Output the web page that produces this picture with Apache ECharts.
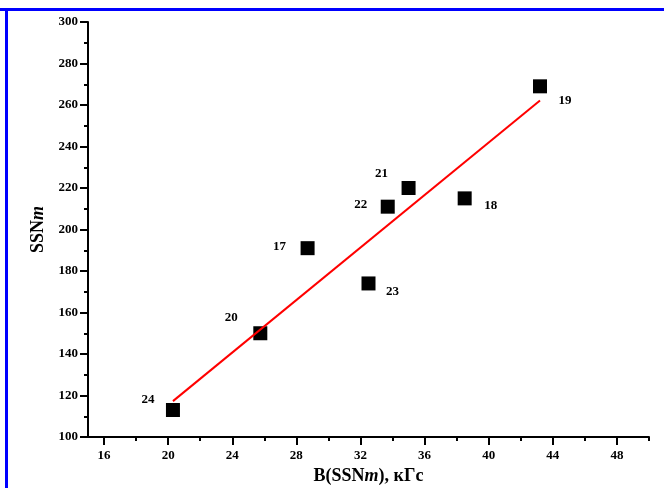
<!DOCTYPE html>
<html>
<head>
<meta charset="utf-8">
<script src="https://cdn.jsdelivr.net/npm/echarts@6/dist/echarts.min.js"></script>
<style>
    html, body { margin: 0; padding: 0; background: #fff; }
    #chart { width: 664px; height: 488px; }
</style>
</head>
<body>
<div id="chart"></div>
<script>
// номера циклов, B(SSNm) в кГс и SSNm
var cycles = ['17', '18', '19', '20', '21', '22', '23', '24'];
var bField = [28.7, 38.5, 43.2, 25.75, 35.0, 33.7, 32.5, 20.3];
var ssnMax = [191, 215, 269, 150, 220, 211, 174, 113];

// концы линии регрессии
var fitB = [20.3, 43.2];
var fitSSN = [117.3, 262.2];

// подписи оси X
var xTicks = [16, 20, 24, 28, 32, 36, 40, 44, 48];
var xMinorTicks = [18, 22, 26, 30, 34, 38, 42, 46, 50];

// смещения подписей циклов относительно точек (px)
var labelOffsets = [[-28, -2], [26, 7], [25, 14], [-29, -16], [-27, -14], [-27, -2], [24, 8], [-25, -10]];

var font = 'Liberation Serif';

var points = [];
for (var i = 0; i < cycles.length; i++) {
    points.push({
        value: [bField[i], ssnMax[i]],
        name: cycles[i],
        label: { offset: labelOffsets[i] }
    });
}
var fitLine = [];
for (var j = 0; j < fitB.length; j++) {
    fitLine.push([fitB[j], fitSSN[j]]);
}

var chart = echarts.init(document.getElementById('chart'));
chart.setOption({
    animation: false,
    backgroundColor: '#fff',
    grid: { left: 88, right: 15, top: 22, bottom: 51, outerBoundsMode: 'none', containLabel: false },
    graphic: [
        { type: 'rect', shape: { x: 0, y: 8, width: 664, height: 3 }, style: { fill: '#0000ff' } },
        { type: 'rect', shape: { x: 5, y: 8, width: 3, height: 480 }, style: { fill: '#0000ff' } }
    ],
    xAxis: [{
        type: 'value',
        min: 15,
        max: 50,
        position: 'bottom',
        name: '{b|B(SSN}{i|m}{b|), кГс}',
        nameLocation: 'middle',
        nameGap: 30,
        nameTextStyle: {
            rich: {
                b: { fontFamily: font, fontWeight: 'bold', fontSize: 18, color: '#000' },
                i: { fontFamily: font, fontWeight: 'bold', fontStyle: 'italic', fontSize: 18, color: '#000' }
            }
        },
        axisLine: { show: true, onZero: false, lineStyle: { color: '#000', width: 2 } },
        axisTick: { show: true, inside: false, customValues: xTicks, length: 8, lineStyle: { color: '#000', width: 2 } },
        axisLabel: { customValues: xTicks, margin: 12, color: '#000', fontFamily: font, fontWeight: 'bold', fontSize: 13 },
        splitLine: { show: false }
    }, {
        type: 'value',
        min: 15,
        max: 50,
        position: 'bottom',
        axisLine: { show: false },
        axisTick: { show: true, inside: false, customValues: xMinorTicks, length: 4, lineStyle: { color: '#000', width: 2 } },
        axisLabel: { show: false },
        splitLine: { show: false }
    }],
    yAxis: {
        type: 'value',
        min: 100,
        max: 300,
        interval: 20,
        name: '{b|SSN}{i|m}',
        nameLocation: 'middle',
        nameGap: 40,
        nameTextStyle: {
            rich: {
                b: { fontFamily: font, fontWeight: 'bold', fontSize: 18, color: '#000' },
                i: { fontFamily: font, fontWeight: 'bold', fontStyle: 'italic', fontSize: 18, color: '#000' }
            }
        },
        axisLine: { show: true, onZero: false, lineStyle: { color: '#000', width: 2 } },
        axisTick: { show: true, inside: false, length: 8, lineStyle: { color: '#000', width: 2 } },
        minorTick: { show: true, splitNumber: 2, length: 4, lineStyle: { color: '#000', width: 2 } },
        axisLabel: { margin: 10, color: '#000', fontFamily: font, fontWeight: 'bold', fontSize: 13 },
        splitLine: { show: false },
        minorSplitLine: { show: false }
    },
    series: [{
        name: 'SSNm',
        type: 'scatter',
        symbol: 'rect',
        symbolSize: 14,
        itemStyle: { color: '#000', opacity: 1 },
        label: {
            show: true,
            position: 'inside',
            formatter: '{b}',
            color: '#000',
            fontFamily: font,
            fontWeight: 'bold',
            fontSize: 13
        },
        emphasis: { disabled: true },
        data: points,
        z: 2
    }, {
        name: 'fit',
        type: 'line',
        showSymbol: false,
        symbol: 'none',
        lineStyle: { color: '#ff0000', width: 2 },
        data: fitLine,
        z: 3
    }]
});
</script>
</body>
</html>
